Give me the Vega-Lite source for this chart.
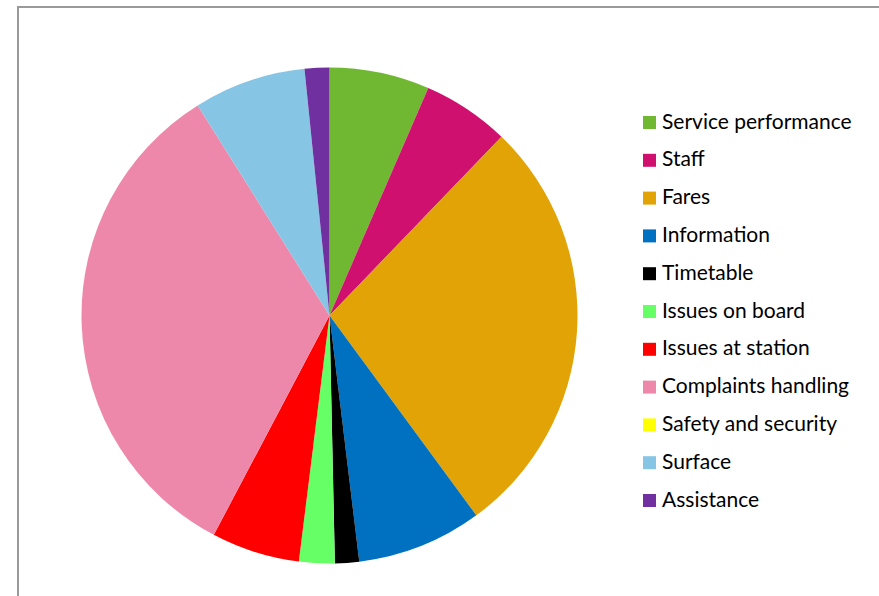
{
  "$schema": "https://vega.github.io/schema/vega-lite/v6.json",
  "autosize": "none",
  "width": 880,
  "height": 620,
  "padding": {"left": 18, "top": 7, "right": 0, "bottom": 0},
  "background": "white",
  "config": {
    "view": {"stroke": null},
    "font": "Lato"
  },
  "layer": [
    {
      "data": {"values": [{"frame": 1}]},
      "mark": {"type": "rect", "fill": null, "stroke": "#9a9a9a", "strokeWidth": 2},
      "encoding": {}
    },
    {
      "data": {
        "values": [
          {"idx": 1, "category": "Service performance", "value": 6.52},
          {"idx": 2, "category": "Staff", "value": 5.68},
          {"idx": 3, "category": "Fares", "value": 27.72},
          {"idx": 4, "category": "Information", "value": 8.17},
          {"idx": 5, "category": "Timetable", "value": 1.57},
          {"idx": 6, "category": "Issues on board", "value": 2.32},
          {"idx": 7, "category": "Issues at station", "value": 5.75},
          {"idx": 8, "category": "Complaints handling", "value": 33.36},
          {"idx": 9, "category": "Safety and security", "value": 0},
          {"idx": 10, "category": "Surface", "value": 7.31},
          {"idx": 11, "category": "Assistance", "value": 1.61}
        ]
      },
      "mark": {"type": "arc", "x": 311.5, "y": 308.5, "outerRadius": 248},
      "encoding": {
        "theta": {"field": "value", "type": "quantitative", "stack": true},
        "order": {"field": "idx", "type": "quantitative"},
        "color": {
          "field": "category",
          "type": "nominal",
          "sort": null,
          "scale": {
            "domain": ["Service performance", "Staff", "Fares", "Information", "Timetable", "Issues on board", "Issues at station", "Complaints handling", "Safety and security", "Surface", "Assistance"],
            "range": ["#70B832", "#D0106F", "#E2A307", "#0070C0", "#000000", "#66FF66", "#FF0000", "#EE88AA", "#FFFF00", "#87C5E5", "#7030A0"]
          },
          "legend": {
            "title": null,
            "orient": "none",
            "legendX": 621,
            "legendY": 105,
            "symbolType": "square",
            "symbolSize": 169,
            "symbolStrokeWidth": 0,
            "labelFontSize": 21,
            "labelFont": "Lato",
            "labelColor": "#000000",
            "labelOffset": 2,
            "rowPadding": 15.8,
            "labelLimit": 300
          }
        }
      }
    }
  ]
}
